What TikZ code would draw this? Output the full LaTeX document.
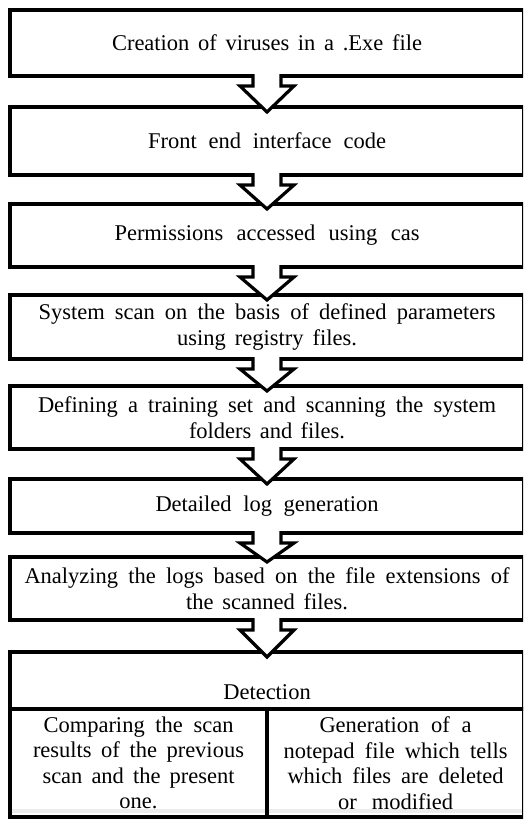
\documentclass[tikz,border=0pt]{standalone}
\usepackage{fontspec}
\setmainfont{Liberation Serif}
\usetikzlibrary{calc}
\newcommand{\spreadline}[2]{\makebox[#1pt][s]{#2}}
\newcommand{\flowarrow}[2]{%
	\draw[blockarrow] ($(#1.south)+(-14,2)$) -- ($(#1.south)+(-14,-10)$) -- ($(#1.south)+(-27,-10)$)
		-- ($(#2.north)+(0,-5)$) -- ($(#1.south)+(27,-10)$) -- ($(#1.south)+(14,-10)$) -- ($(#1.south)+(14,2)$);}
\tikzset{
	steptext/.style={font=\fontsize{22.5}{25.5}\selectfont},
	stepbox/.style={draw, line width=3.2pt, minimum width=514pt, inner sep=0pt, outer sep=0pt, align=center, steptext},
	cellbox/.style={stepbox, minimum width=257pt, minimum height=108pt},
	blockarrow/.style={line width=3.2pt, fill=white, line join=miter}
}
\begin{document}
\begin{tikzpicture}[x=1pt,y=1pt]
	\useasboundingbox (0,0) rectangle (523,-819);
	\clip (0,0) rectangle (523,-819);
	\fill[gray!15] (12,-809) rectangle (523,-813);
	\node[stepbox, minimum height=66pt] (creation) at (267,-43) {\spreadline{310}{Creation of viruses in a .Exe file}};
	\node[stepbox, minimum height=68pt] (frontend) at (267,-141) {\spreadline{238}{Front end interface code}};
	\node[stepbox, minimum height=63pt] (permission) at (267,-235.5) {\spreadline{305}{Permissions accessed using cas}};
	\node[stepbox, minimum height=64pt] (sysscan) at (267,-327) {\spreadline{457}{System scan on the basis of defined parameters}\\ \spreadline{180}{using registry files.}};
	\node[stepbox, minimum height=63pt] (training) at (267,-417.5) {\spreadline{458}{Defining a training set and scanning the system}\\ \spreadline{156}{folders and files.}};
	\node[stepbox, minimum height=54pt] (loggen) at (267,-506) {\spreadline{223}{Detailed log generation}};
	\node[stepbox, minimum height=63pt] (analyze) at (267,-588.5) {\spreadline{485}{Analyzing the logs based on the file extensions of}\\ \spreadline{162}{the scanned files.}};
	\node[stepbox, minimum height=57pt] (detect) at (267,-680.5) {};
	\node[steptext, anchor=base] (detecttext) at ($(detect.south)+(0,9.5)$) {Detection};
	\node[cellbox, anchor=north west] (compare) at (detect.south west) {\spreadline{190}{Comparing the scan}\\ \spreadline{211}{results of the previous}\\ \spreadline{192}{scan and the present}\\ one.};
	\node[cellbox, anchor=north east] (notepad) at (detect.south east) {\spreadline{152}{Generation of a}\\ \spreadline{224}{notepad file which tells}\\ \spreadline{216}{which files are deleted}\\ \spreadline{115}{or modified}};
	% block arrows between the steps
	\flowarrow{creation}{frontend}
	\flowarrow{frontend}{permission}
	\flowarrow{permission}{sysscan}
	\flowarrow{sysscan}{training}
	\flowarrow{training}{loggen}
	\flowarrow{loggen}{analyze}
	\flowarrow{analyze}{detect}
\end{tikzpicture}
\end{document}
